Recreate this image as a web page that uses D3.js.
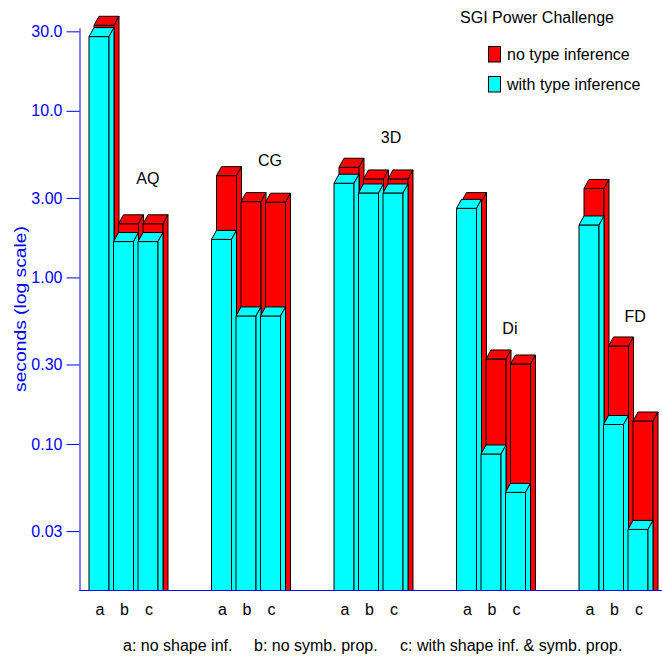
<!DOCTYPE html>
<html>
<head>
<meta charset="utf-8">
<script src="https://cdn.jsdelivr.net/npm/d3@7"></script>
<style>
  body { margin: 0; background: #fff; }
  text { font-family: "Liberation Sans", Arial, sans-serif; }
</style>
</head>
<body>
<svg id="chart" width="662" height="656"></svg>
<script>
// benchmark groups and the three compiler variants
var groups = ["AQ", "CG", "3D", "Di", "FD"];
var variants = ["a", "b", "c"];

// seconds, one row per group, columns a/b/c
var noTypeInf   = [[28.6, 1.84, 1.84], [3.58, 2.50, 2.48], [4.02, 3.42, 3.42], [2.50, 0.284, 0.265], [3.00, 0.340, 0.1205]];
var withTypeInf = [[27.7, 1.63, 1.63], [1.68, 0.583, 0.583], [3.65, 3.19, 3.19], [2.58, 0.0865, 0.0509], [2.05, 0.130, 0.0305]];

var tickValues = [0.03, 0.1, 0.3, 1, 3, 10, 30];
var tickLabels = ["0.03", "0.10", "0.30", "1.00", "3.00", "10.0", "30.0"];

// where the group names sit (slot units, seconds)
var labelSlot = [1.95, 6.94, 11.88, 16.73, 21.84];
var labelAt = [3.92, 5.03, 6.91, 0.493, 0.583];

var seriesNames = ["no type inference", "with type inference"];
var seriesColors = ["#ff0000", "#00ffff"];
var captions = ["a: no shape inf.", "b: no symb. prop.", "c: with shape inf. & symb. prop."];

(function() {
    var svg = d3.select("#chart"),
        base = 590,
        barW = 20,
        dx = 5, dy = 9;   // depth of the 3d boxes

    var y = d3.scaleLog().domain([0.0132, 31.5]).range([base, 27.3]);
    var x = d3.scaleLinear().domain([0, 24]).range([100, 688]);

    svg.append("clipPath").attr("id", "plotclip")
        .append("rect").attr("x", 0).attr("y", 0).attr("width", 662).attr("height", base);

    var plot = svg.append("g").attr("clip-path", "url(#plotclip)");

    // a box with front face, top face and right side
    function box(g, left, top, fill) {
        var bottom = base + 30;
        var pts = function(a) { return a.map(function(p) { return p.join(","); }).join(" "); };
        g.append("polygon")
            .attr("points", pts([[left, top], [left + barW, top], [left + barW, bottom], [left, bottom]]));
        g.append("polygon")
            .attr("points", pts([[left, top], [left + dx, top - dy], [left + barW + dx, top - dy], [left + barW, top]]));
        g.append("polygon")
            .attr("points", pts([[left + barW, top], [left + barW + dx, top - dy], [left + barW + dx, bottom - dy], [left + barW, bottom]]));
        g.selectAll("polygon")
            .attr("fill", fill).attr("stroke", "#000").attr("stroke-width", 1)
            .attr("stroke-linejoin", "miter");
    }

    var bars = [];
    groups.forEach(function(gName, gi) {
        variants.forEach(function(v, vi) {
            bars.push({ slot: gi * 5 + vi, red: noTypeInf[gi][vi], cyan: withTypeInf[gi][vi] });
        });
    });

    // back row first, then front row
    bars.forEach(function(b) {
        var left = x(b.slot) - 11;
        box(plot.append("g"), left + dx, y(b.red) - dy, seriesColors[0]);
    });
    bars.forEach(function(b) {
        var left = x(b.slot) - 11;
        box(plot.append("g"), left, y(b.cyan), seriesColors[1]);
    });

    // baseline
    svg.append("line")
        .attr("x1", 79.5).attr("x2", 662).attr("y1", base + 0.5).attr("y2", base + 0.5)
        .attr("stroke", "#0000ff").attr("stroke-width", 1);

    // y axis
    var yAxis = d3.axisLeft(y)
        .tickValues(tickValues)
        .tickFormat(function(d, i) { return tickLabels[i]; })
        .tickSizeInner(13).tickSizeOuter(0).tickPadding(4);

    var ax = svg.append("g").attr("transform", "translate(79.5,0.5)").call(yAxis);
    ax.selectAll("path, line").attr("stroke", "#0000ff");
    ax.selectAll("text")
        .attr("fill", "#0000ff")
        .style("font-size", "16px")
        .style("font-family", "'Liberation Sans', Arial, sans-serif");

    svg.append("text")
        .attr("transform", "translate(26,309) rotate(-90)")
        .attr("text-anchor", "middle")
        .attr("fill", "#0000ff")
        .attr("textLength", 166).attr("lengthAdjust", "spacingAndGlyphs")
        .style("font-size", "16px")
        .text("seconds (log scale)");

    // group names
    svg.selectAll(".glabel").data(groups).enter().append("text")
        .attr("class", "glabel")
        .attr("x", function(d, i) { return x(labelSlot[i]); })
        .attr("y", function(d, i) { return y(labelAt[i]); })
        .attr("dy", "0.35em")
        .attr("text-anchor", "middle")
        .style("font-size", "16px")
        .text(function(d) { return d; });

    // a b c under each group
    svg.selectAll(".vlabel").data(bars).enter().append("text")
        .attr("class", "vlabel")
        .attr("x", function(d) { return x(d.slot); })
        .attr("y", 609)
        .attr("dy", "0.35em")
        .attr("text-anchor", "middle")
        .style("font-size", "16px")
        .text(function(d) { return variants[d.slot % 5]; });

    // caption
    var capX = [123, 254, 400];
    svg.selectAll(".cap").data(captions).enter().append("text")
        .attr("class", "cap")
        .attr("x", function(d, i) { return capX[i]; })
        .attr("y", 645)
        .attr("dy", "0.35em")
        .style("font-size", "16px")
        .text(function(d) { return d; });

    // legend
    var leg = svg.append("g");
    leg.append("text")
        .attr("x", 537).attr("y", 17).attr("dy", "0.35em")
        .attr("text-anchor", "middle")
        .style("font-size", "16px")
        .text("SGI Power Challenge");
    seriesNames.forEach(function(name, i) {
        leg.append("rect")
            .attr("x", 488.5).attr("y", 46.5 + i * 30)
            .attr("width", 12).attr("height", 15.5)
            .attr("fill", seriesColors[i]).attr("stroke", "#000");
        leg.append("text")
            .attr("x", 507).attr("y", 54 + i * 30).attr("dy", "0.35em")
            .style("font-size", "16px")
            .text(name);
    });
})();
</script>
</body>
</html>
